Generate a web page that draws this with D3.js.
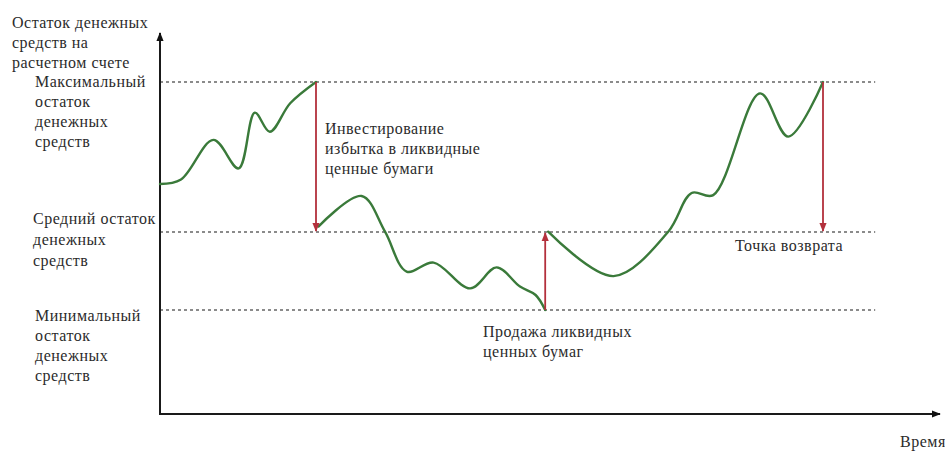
<!DOCTYPE html>
<html>
<head>
<meta charset="utf-8">
<script src="https://cdn.jsdelivr.net/npm/d3@7"></script>
<style>
  html, body { margin: 0; padding: 0; background: #fff; }
</style>
</head>
<body>
<svg id="chart" width="945" height="455"></svg>
<script>
// Cash balance levels (units of cash)
const levelMax = 110;
const levelMid = 60;
const levelMin = 34;

// Balance path, split into three stretches by the interventions
const segmentGrowth = [
  [0, 76], [3.5, 77.5], [8.9, 90.7], [13.1, 81.2], [15.8, 99.8],
  [18.3, 93.4], [21.7, 102.9], [26, 110]
];
const segmentDecline = [
  [26.4, 61.8], [33.6, 72], [37.5, 60.1], [41.1, 46.8], [45.6, 49.8],
  [51.7, 41.2], [56.1, 48.2], [60, 41.8], [62.6, 39], [64.2, 34]
];
const segmentRecovery = [
  [64.7, 60.1], [75.6, 45.3], [84.7, 60.1], [88.6, 73], [92.2, 72.3],
  [100, 106.2], [104.7, 91.8], [110.5, 110]
];

// Interventions: time, from level, to level
const interventions = [
  [26, levelMax, levelMid],
  [64.2, levelMin, levelMid],
  [110.5, levelMax, levelMid]
];

// Text blocks
const axisTitleY = ["Остаток денежных", "средств на", "расчетном счете"];
const axisTitleX = "Время";
const labelMax = ["Максимальный", "остаток", "денежных", "средств"];
const labelMid = ["Средний остаток", "денежных", "средств"];
const labelMin = ["Минимальный", "остаток", "денежных", "средств"];
const noteInvest = ["Инвестирование", "избытка в ликвидные", "ценные бумаги"];
const noteSell = ["Продажа ликвидных", "ценных бумаг"];
const noteReturn = ["Точка возврата"];

const svg = d3.select("#chart");

const x = d3.scaleLinear().domain([0, 130]).range([160, 940]);
const y = d3.scaleLinear().domain([0, 110]).range([412, 82]);

const defs = svg.append("defs");
function marker(id, color, size) {
  defs.append("marker")
    .attr("id", id)
    .attr("viewBox", "0 0 10 10")
    .attr("refX", 9).attr("refY", 5)
    .attr("markerWidth", size).attr("markerHeight", size)
    .attr("markerUnits", "userSpaceOnUse")
    .attr("orient", "auto")
    .append("path")
    .attr("d", "M0,1 L10,5 L0,9 Z")
    .attr("fill", color);
}
marker("axisHead", "#111", 9);
marker("redHead", "#b3303c", 9);

// Reference levels
const levels = [levelMax, levelMid, levelMin];
svg.append("g").selectAll("line")
  .data(levels)
  .join("line")
  .attr("x1", x(0)).attr("x2", x(119.2))
  .attr("y1", d => y(d)).attr("y2", d => y(d))
  .attr("stroke", "#666")
  .attr("stroke-width", 1.4)
  .attr("stroke-dasharray", "3,3");

// Axes
const axes = svg.append("g").attr("stroke", "#1a1a1a").attr("stroke-width", 2);
axes.append("line")
  .attr("x1", x(0)).attr("y1", y(0) + 1)
  .attr("x2", x(0)).attr("y2", 33)
  .attr("marker-end", "url(#axisHead)");
axes.append("line")
  .attr("x1", x(0) - 1).attr("y1", y(0) + 2)
  .attr("x2", x(130)).attr("y2", y(0) + 2)
  .attr("marker-end", "url(#axisHead)");

// Balance curve
const line = d3.line()
  .x(d => x(d[0]))
  .y(d => y(d[1]))
  .curve(d3.curveCatmullRom.alpha(0.5));

svg.append("g").selectAll("path")
  .data([segmentGrowth, segmentDecline, segmentRecovery])
  .join("path")
  .attr("d", line)
  .attr("fill", "none")
  .attr("stroke", "#3a7a3a")
  .attr("stroke-width", 2.4)
  .attr("stroke-linecap", "round")
  .attr("stroke-linejoin", "round");

// Intervention arrows
svg.append("g").selectAll("line")
  .data(interventions)
  .join("line")
  .attr("x1", d => x(d[0])).attr("x2", d => x(d[0]))
  .attr("y1", d => y(d[1]))
  .attr("y2", d => y(d[2]) + (d[2] < d[1] ? -1 : 1))
  .attr("stroke", "#b3303c")
  .attr("stroke-width", 1.8)
  .attr("marker-end", "url(#redHead)");

// Text helper
function block(lines, left, firstBaseline, step) {
  svg.append("text")
    .style("font-family", "'Liberation Serif', 'Times New Roman', serif")
    .attr("font-size", 16)
    .attr("letter-spacing", 0.5)
    .attr("fill", "#2b2b2b")
    .selectAll("tspan")
    .data(lines)
    .join("tspan")
    .attr("x", left)
    .attr("y", (d, i) => firstBaseline + i * step)
    .text(d => d);
}

block(axisTitleY, 12, 28, 20);
block(labelMax, 35, 87, 20);
block(labelMid, 33, 224, 21);
block(labelMin, 35, 321, 20);
block(noteInvest, 325, 134, 20);
block(noteSell, 483, 337, 20);
block(noteReturn, 735, 251, 20);
block([axisTitleX], 900, 447, 20);
</script>
</body>
</html>
